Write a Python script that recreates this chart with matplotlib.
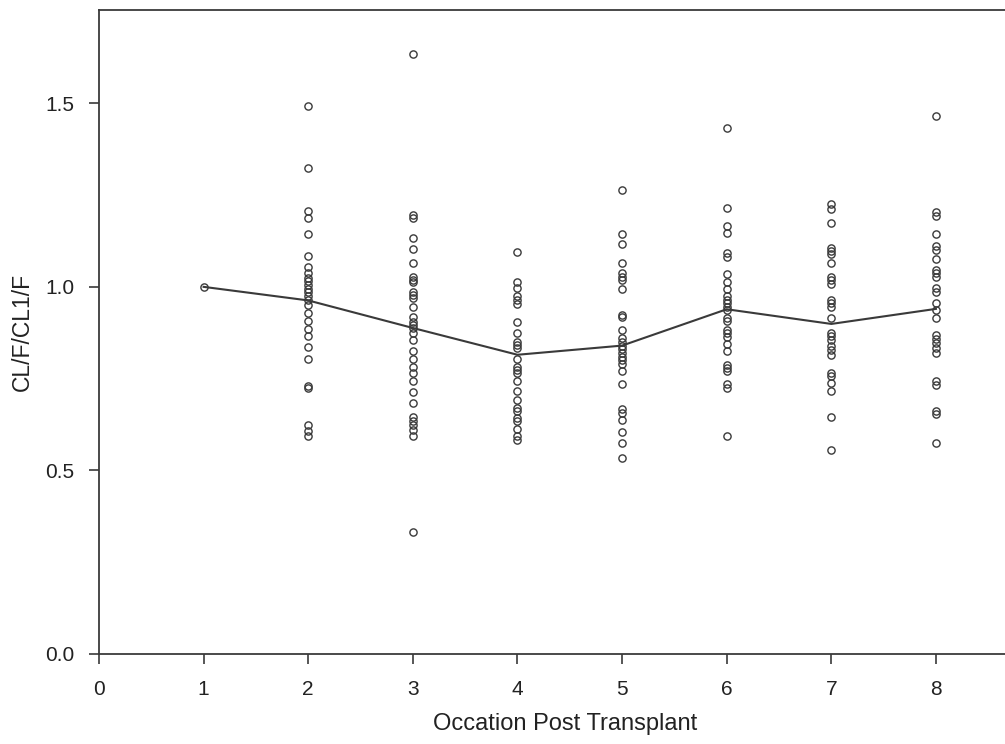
import matplotlib.pyplot as plt

# CL/F relative to first occasion
occ1 = [1.0]
occ2 = [1.492, 1.323, 1.206, 1.188, 1.143, 1.085, 1.055, 1.037, 1.025, 1.015, 1.005,
        0.995, 0.985, 0.975, 0.965, 0.951, 0.930, 0.906, 0.885, 0.865, 0.835, 0.804,
        0.731, 0.725, 0.625, 0.607, 0.595]
occ3 = [1.633, 1.196, 1.187, 1.134, 1.103, 1.064, 1.028, 1.019, 1.014, 0.987, 0.978,
        0.969, 0.944, 0.919, 0.905, 0.895, 0.888, 0.874, 0.856, 0.824, 0.804, 0.783,
        0.764, 0.743, 0.714, 0.684, 0.645, 0.635, 0.625, 0.61, 0.595, 0.332]
occ4 = [1.094, 1.014, 0.996, 0.974, 0.965, 0.954, 0.904, 0.874, 0.851, 0.842, 0.833,
        0.804, 0.783, 0.774, 0.765, 0.743, 0.716, 0.693, 0.670, 0.661, 0.643, 0.634,
        0.613, 0.593, 0.584]
occ5 = [1.264, 1.144, 1.116, 1.064, 1.037, 1.028, 1.019, 0.994, 0.924, 0.918, 0.883,
        0.86, 0.85, 0.84, 0.83, 0.82, 0.81, 0.80, 0.79, 0.77, 0.736, 0.666, 0.657,
        0.637, 0.604, 0.575, 0.534]
occ6 = [1.433, 1.214, 1.166, 1.146, 1.093, 1.082, 1.035, 1.014, 0.995, 0.974, 0.965,
        0.955, 0.945, 0.937, 0.915, 0.906, 0.883, 0.874, 0.863, 0.845, 0.824, 0.788,
        0.779, 0.770, 0.736, 0.725, 0.595]
occ7 = [1.225, 1.211, 1.173, 1.107, 1.098, 1.090, 1.064, 1.028, 1.019, 1.008, 0.965,
        0.956, 0.945, 0.915, 0.874, 0.865, 0.856, 0.838, 0.829, 0.815, 0.765, 0.756,
        0.738, 0.716, 0.645, 0.555]
occ8 = [1.465, 1.203, 1.194, 1.143, 1.110, 1.101, 1.075, 1.046, 1.037, 1.026, 0.996,
        0.987, 0.956, 0.936, 0.915, 0.869, 0.858, 0.847, 0.833, 0.820, 0.743, 0.734,
        0.663, 0.654, 0.575]
occasions = [1, 2, 3, 4, 5, 6, 7, 8]
all_vals = [occ1, occ2, occ3, occ4, occ5, occ6, occ7, occ8]
mean_line = [1.0, 0.963, 0.888, 0.815, 0.840, 0.939, 0.899, 0.940]

plt.rcParams['font.family'] = ['Liberation Sans', 'DejaVu Sans']
fig = plt.figure(figsize=(10.05, 7.44), dpi=100)
ax = fig.add_axes([0.0985, 0.121, 0.9015, 0.866])

col = '#3a3a3a'
for occ, vals in zip(occasions, all_vals):
    ax.plot([occ] * len(vals), vals, 'o', ms=5.2, mfc='none', mec=col, mew=1.0)
ax.plot(occasions, mean_line, '-', color=col, lw=1.5)

ax.set_xlim(0, 8.66)
ax.set_ylim(0, 1.755)
ax.set_xticks(range(0, 9))
ax.set_yticks([0.0, 0.5, 1.0, 1.5])
ax.set_yticklabels(['0.0', '0.5', '1.0', '1.5'])
ax.spines['right'].set_visible(False)
for s in ['left', 'bottom', 'top']:
    ax.spines[s].set_color(col)
    ax.spines[s].set_linewidth(1.3)
ax.tick_params(direction='out', length=7.5, width=1.2, color=col,
               labelsize=15, labelcolor='#222222')
ax.tick_params(axis='x', pad=11)
ax.tick_params(axis='y', pad=10)
ax.set_xlabel('Occation Post Transplant', fontsize=17, color='#222222')
ax.xaxis.set_label_coords(0.515, -0.092)
ax.set_ylabel('CL/F/CL1/F', fontsize=16.5, color='#222222', labelpad=8)

fig.savefig('out.png', dpi=100)
